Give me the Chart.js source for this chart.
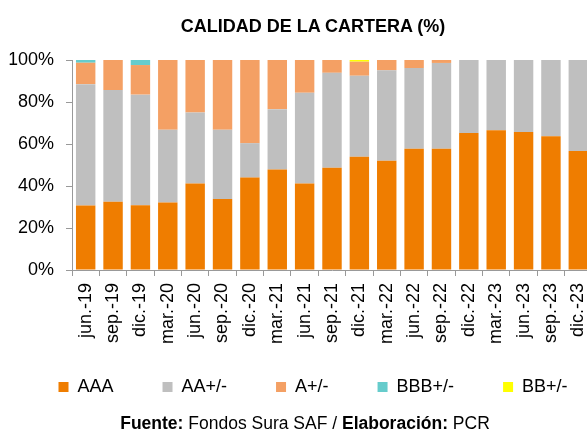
<!DOCTYPE html>
<html>
<head>
<meta charset="utf-8">
<script src="https://cdn.jsdelivr.net/npm/chart.js@4"></script>
<style>
  html, body { margin: 0; padding: 0; overflow: hidden; background: #fff; }
  #wrap { position: relative; width: 587px; height: 431px; overflow: hidden; }
  canvas { display: block; }
  .title { position: absolute; top: 17px; left: 0; width: 626px; text-align: center;
           font: bold 18px 'Liberation Sans', Arial, sans-serif; line-height: 18px; color: #000; }
  .foot { position: absolute; top: 415px; left: 0; width: 610px; text-align: center;
          font: 17.5px 'Liberation Sans', Arial, sans-serif; line-height: 17.5px; color: #000; }
</style>
</head>
<body>
<div id="wrap">
  <canvas id="c" width="680" height="431"></canvas>
  <div class="title">CALIDAD DE LA CARTERA (%)</div>
  <div class="foot"><b>Fuente:</b> Fondos Sura SAF / <b>Elaboración:</b> PCR</div>
</div>
<script>
const categories = ['jun.-19','sep.-19','dic.-19','mar.-20','jun.-20','sep.-20','dic.-20','mar.-21','jun.-21','sep.-21','dic.-21','mar.-22','jun.-22','sep.-22','dic.-22','mar.-23','jun.-23','sep.-23','dic.-23'];
const seriesNames = ['AAA', 'AA+/-', 'A+/-', 'BBB+/-', 'BB+/-'];
const aaa = [30.7, 32.5, 30.8, 32.2, 41.2, 33.8, 44.0, 47.8, 41.2, 48.7, 53.9, 52.0, 57.7, 57.7, 65.2, 66.5, 65.7, 63.7, 56.7];
const aa  = [57.8, 53.2, 52.7, 34.6, 33.8, 33.0, 16.4, 28.8, 43.2, 45.2, 38.6, 43.1, 38.5, 40.9, 34.8, 33.5, 34.3, 36.3, 43.3];
const a   = [10.2, 14.3, 14.1, 33.2, 25.0, 33.2, 39.6, 23.4, 15.6, 6.1, 6.7, 4.9, 3.8, 1.4, 0, 0, 0, 0, 0];
const bbb = [1.3, 0, 2.4, 0, 0, 0, 0, 0, 0, 0, 0, 0, 0, 0, 0, 0, 0, 0, 0];
const bb  = [0, 0, 0, 0, 0, 0, 0, 0, 0, 0, 0.8, 0, 0, 0, 0, 0, 0, 0, 0];
const yTicks = [0, 20, 40, 60, 80, 100];
const colors = ['#EF7D00', '#BFBFBF', '#F4A064', '#66CCCC', '#FFFF00'];

const FONT = "'Liberation Sans', Arial, sans-serif";
Chart.defaults.font.family = FONT;
Chart.defaults.color = '#000';

const values = [aaa, aa, a, bbb, bb];
const datasets = seriesNames.map((name, i) => ({
  label: name,
  data: values[i],
  backgroundColor: colors[i],
  borderWidth: 0,
  barPercentage: 0.71,
  categoryPercentage: 1.0
}));

new Chart(document.getElementById('c'), {
  type: 'bar',
  data: { labels: categories, datasets },
  options: {
    responsive: false,
    animation: false,
    layout: { padding: { top: 60, left: 9.5, right: 0, bottom: 25 } },
    plugins: {
      title: { display: false },
      tooltip: { enabled: false },
      legend: {
        position: 'bottom',
        align: 'start',
        title: { display: true, text: '', font: { size: 1, lineHeight: 0 }, padding: { top: -17, bottom: 0 } },
        labels: {
          boxWidth: 10,
          boxHeight: 10,
          padding: 49,
          color: '#000',
          font: { size: 18 }
        }
      }
    },
    scales: {
      x: {
        stacked: true,
        afterFit: (s) => { s.height = 76; },
        grid: { display: true, drawOnChartArea: false, drawTicks: true, tickLength: 6, color: '#999' },
        border: { display: true, color: '#999', width: 1 },
        ticks: { minRotation: 90, maxRotation: 90, padding: 7, color: '#000', font: { size: 18 }, autoSkip: false }
      },
      y: {
        stacked: true,
        min: 0,
        max: 100,
        afterFit: (s) => { s.width = 62.5; },
        afterBuildTicks: (s) => { s.ticks = yTicks.map(v => ({ value: v })); },
        grid: { display: true, drawOnChartArea: false, drawTicks: true, tickLength: 6, color: '#999' },
        border: { display: true, color: '#999', width: 1 },
        ticks: { padding: 12, color: '#000', font: { size: 18 }, callback: (v) => v + '%' }
      },
      y2: {
        position: 'right',
        display: true,
        afterFit: (s) => { s.width = 88; },
        grid: { display: false },
        border: { display: false },
        ticks: { display: false }
      }
    }
  }
});
</script>
</body>
</html>
